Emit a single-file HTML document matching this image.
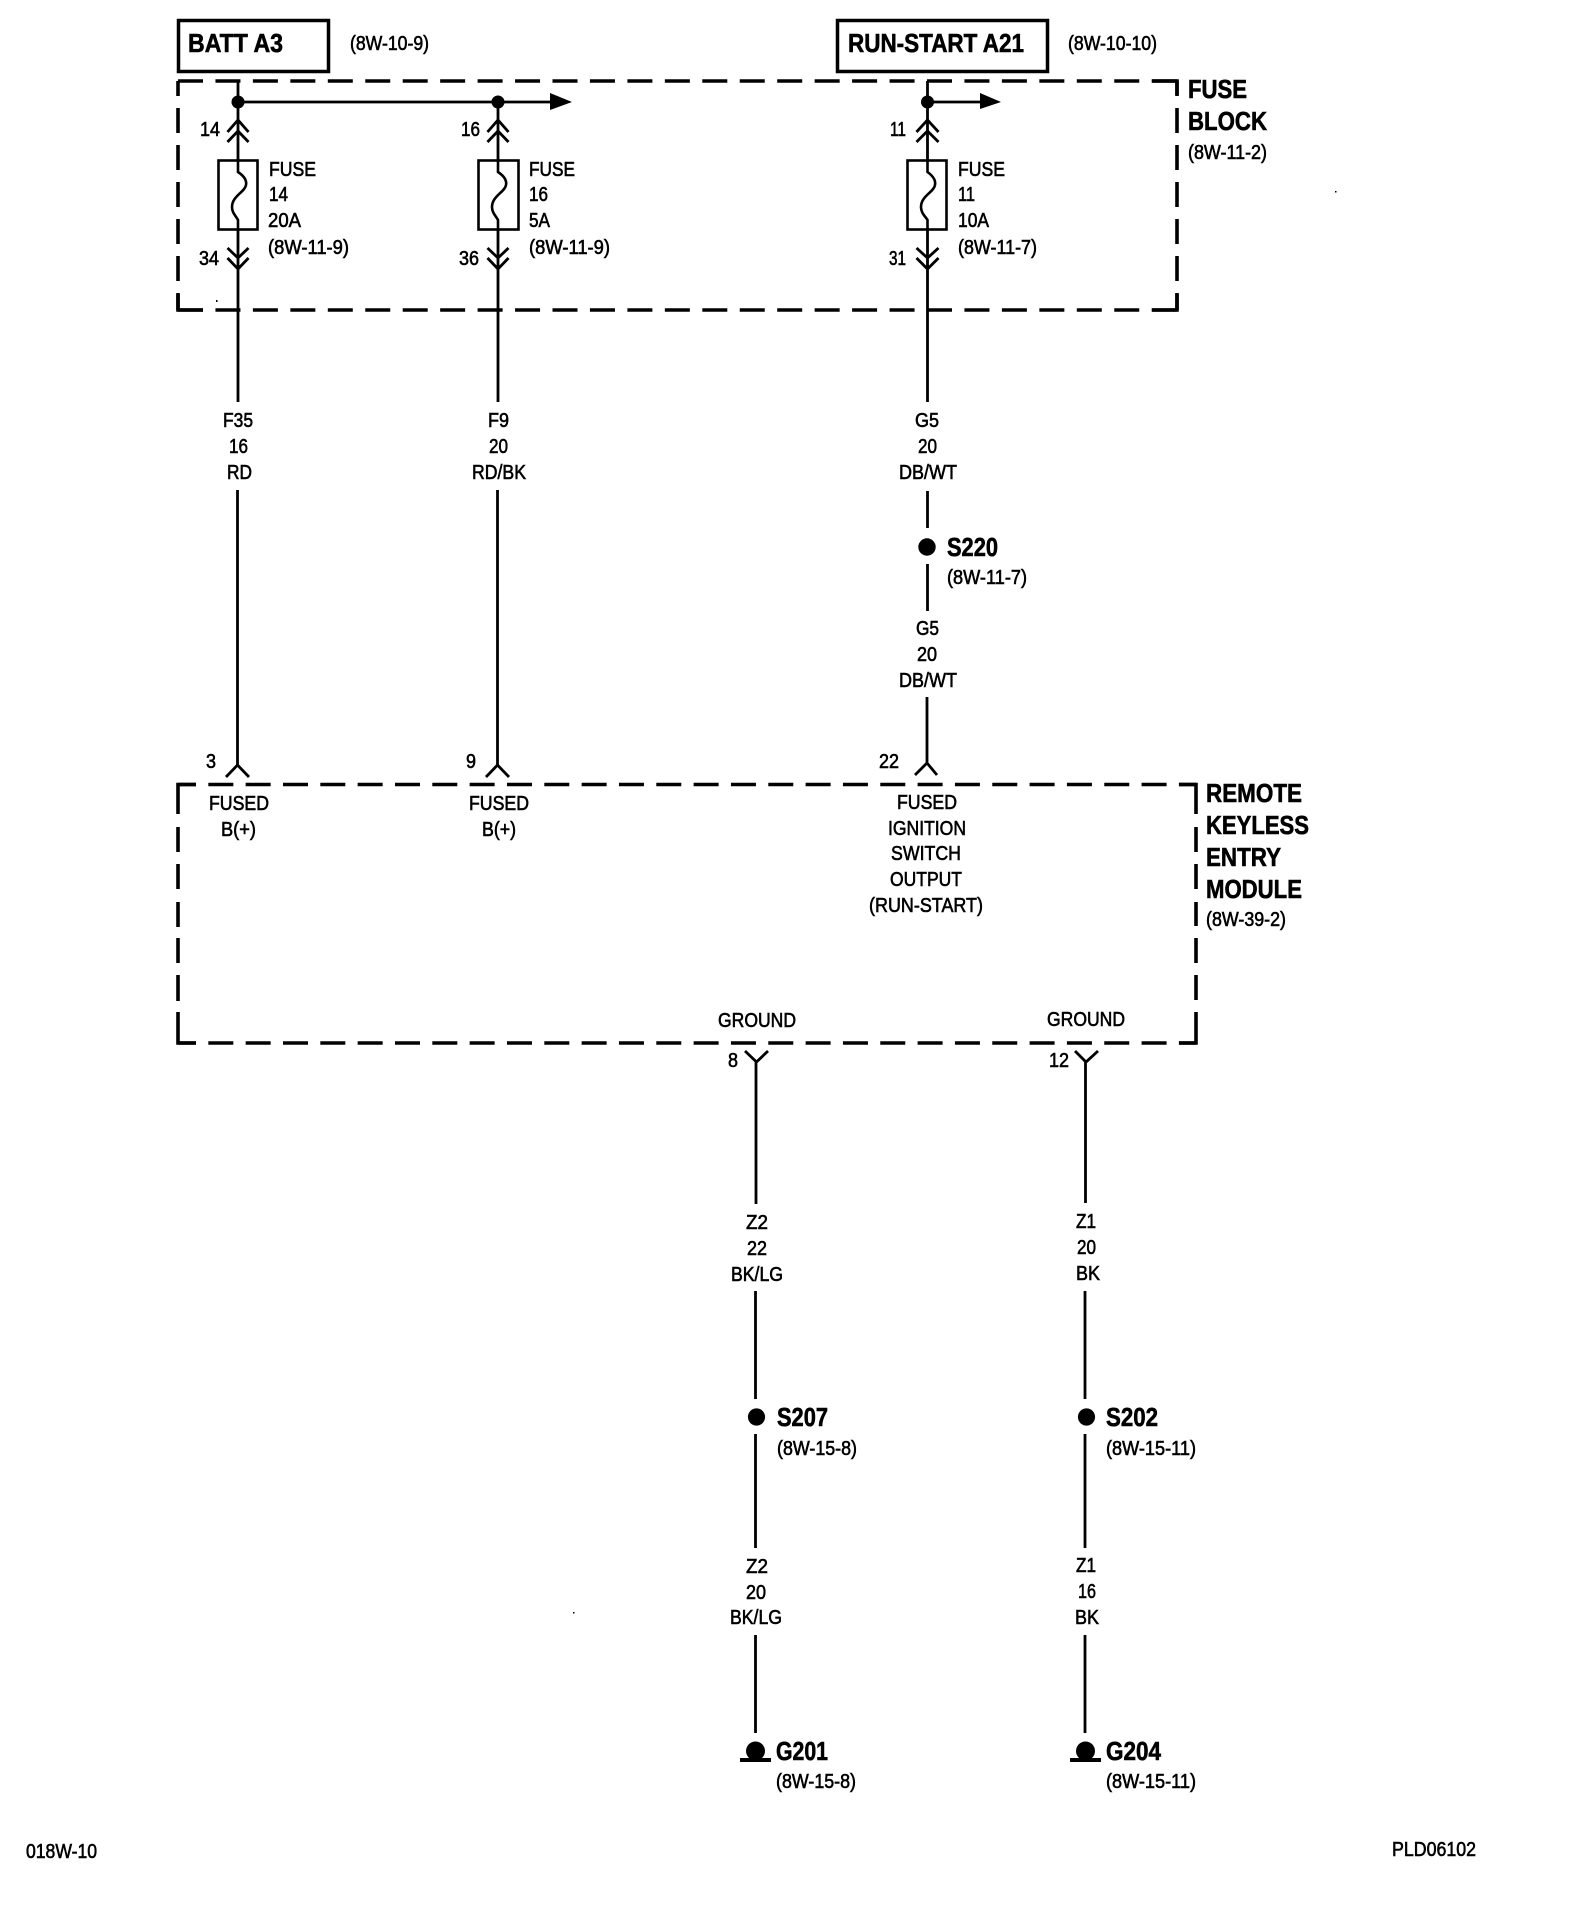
<!DOCTYPE html>
<html><head><meta charset="utf-8"><title>Wiring diagram</title>
<style>
html,body{margin:0;padding:0;background:#fff;width:1584px;height:1924px;overflow:hidden}
svg{display:block}
text{font-family:"Liberation Sans",sans-serif;fill:#000}
.s{font-size:20px;stroke:#000;stroke-width:.6px}
.b{font-size:26px;font-weight:bold;stroke:#000;stroke-width:.6px}
.w{fill:none;stroke:#000;stroke-width:2.8}
.t{fill:none;stroke:#000;stroke-width:2.6}
.d{fill:none;stroke:#000;stroke-width:3.6}
</style></head><body>
<svg xmlns="http://www.w3.org/2000/svg" width="1584" height="1924" viewBox="0 0 1584 1924">
<rect width="1584" height="1924" fill="#fff"/>

<!-- header boxes -->
<rect x="178.5" y="20.5" width="150" height="51" fill="none" stroke="#000" stroke-width="3.5"/>
<rect x="837.5" y="20.5" width="210" height="51" fill="none" stroke="#000" stroke-width="3.5"/>
<text class="b" x="188" y="52" textLength="95" lengthAdjust="spacingAndGlyphs">BATT A3</text>
<text class="b" x="848" y="52" textLength="176" lengthAdjust="spacingAndGlyphs">RUN-START A21</text>
<text class="s" x="350" y="50" textLength="79" lengthAdjust="spacingAndGlyphs">(8W-10-9)</text>
<text class="s" x="1068" y="50" textLength="89" lengthAdjust="spacingAndGlyphs">(8W-10-10)</text>

<!-- fuse block dashed -->
<path class="d" d="M178 81H1177" stroke-dasharray="25 12.45"/>
<path class="d" d="M178 310H1177" stroke-dasharray="25 12.45"/>
<path class="d" d="M178 81V310" stroke-dasharray="25 12" stroke-dashoffset="10"/>
<path class="d" d="M1177 81V310" stroke-dasharray="25 12" stroke-dashoffset="10"/>
<path class="d" d="M1152 81H1177V95M1177 294V310H1152M178 294V310H203"/>
<text class="b" x="1188" y="98" textLength="59" lengthAdjust="spacingAndGlyphs">FUSE</text>
<text class="b" x="1188" y="130" textLength="79" lengthAdjust="spacingAndGlyphs">BLOCK</text>
<text class="s" x="1188" y="159" textLength="79" lengthAdjust="spacingAndGlyphs">(8W-11-2)</text>

<!-- left fuse -->
<path class="w" d="M238 81V160M238 102H550"/>
<circle cx="238" cy="102" r="6.5"/><circle cx="498" cy="102" r="6.5"/>
<path d="M550 93L572 102L550 110Z"/>
<path class="w" d="M227.5 132L238 120L248.5 132M227.5 142L238 131L248.5 142"/>
<rect class="t" x="218.5" y="160.5" width="39" height="69"/>
<path class="t" d="M238 160V172C244 176 247 180 246 185C245 192 232 196 232 207C232 213 236 216 238 220V230"/>
<path class="w" d="M238 230V402M227.5 248L238 258L248.5 248M227.5 258L238 269L248.5 258"/>
<path class="w" d="M237.5 490V765M226 777L237.5 765L249 777"/>
<text class="s" x="200" y="136" textLength="20" lengthAdjust="spacingAndGlyphs">14</text>
<text class="s" x="199" y="265" textLength="20" lengthAdjust="spacingAndGlyphs">34</text>
<text class="s" x="269" y="176" textLength="47" lengthAdjust="spacingAndGlyphs">FUSE</text>
<text class="s" x="269" y="201" textLength="19" lengthAdjust="spacingAndGlyphs">14</text>
<text class="s" x="268" y="227" textLength="33" lengthAdjust="spacingAndGlyphs">20A</text>
<text class="s" x="268" y="254" textLength="81" lengthAdjust="spacingAndGlyphs">(8W-11-9)</text>

<!-- middle fuse -->
<path class="w" d="M498 102V160"/>
<path class="w" d="M487.5 132L498 120L508.5 132M487.5 142L498 131L508.5 142"/>
<rect class="t" x="478.5" y="160.5" width="40" height="69"/>
<path class="t" d="M498 160V172C504 176 507 180 506 185C505 192 492 196 492 207C492 213 496 216 498 220V230"/>
<path class="w" d="M498 230V402M487.5 248L498 258L508.5 248M487.5 258L498 269L508.5 258"/>
<path class="w" d="M497.5 490V765M486 777L497.5 765L509 777"/>
<text class="s" x="461" y="136" textLength="19" lengthAdjust="spacingAndGlyphs">16</text>
<text class="s" x="459" y="265" textLength="20" lengthAdjust="spacingAndGlyphs">36</text>
<text class="s" x="529" y="176" textLength="46" lengthAdjust="spacingAndGlyphs">FUSE</text>
<text class="s" x="529" y="201" textLength="19" lengthAdjust="spacingAndGlyphs">16</text>
<text class="s" x="529" y="227" textLength="21" lengthAdjust="spacingAndGlyphs">5A</text>
<text class="s" x="529" y="254" textLength="81" lengthAdjust="spacingAndGlyphs">(8W-11-9)</text>

<!-- right fuse -->
<path class="w" d="M927.5 81V160M927.5 102H980"/>
<circle cx="927.5" cy="102" r="6.5"/>
<path d="M980 93L1001 102L980 109Z"/>
<path class="w" d="M916.5 132L927.5 120L938.5 132M916.5 142L927.5 131L938.5 142"/>
<rect class="t" x="907.5" y="160.5" width="39" height="69"/>
<path class="t" d="M927.5 160V172C933 176 936 180 935 185C934 192 921 196 921 207C921 213 925 216 927.5 220V230"/>
<path class="w" d="M927.5 230V402M916.5 248L927.5 258L938.5 248M916.5 258L927.5 269L938.5 258"/>
<text class="s" x="890" y="136" textLength="16" lengthAdjust="spacingAndGlyphs">11</text>
<text class="s" x="889" y="265" textLength="17" lengthAdjust="spacingAndGlyphs">31</text>
<text class="s" x="958" y="176" textLength="47" lengthAdjust="spacingAndGlyphs">FUSE</text>
<text class="s" x="958" y="201" textLength="17" lengthAdjust="spacingAndGlyphs">11</text>
<text class="s" x="958" y="227" textLength="31" lengthAdjust="spacingAndGlyphs">10A</text>
<text class="s" x="958" y="254" textLength="79" lengthAdjust="spacingAndGlyphs">(8W-11-7)</text>

<!-- wire labels upper -->
<text class="s" x="223" y="427" textLength="30" lengthAdjust="spacingAndGlyphs">F35</text>
<text class="s" x="229" y="453" textLength="19" lengthAdjust="spacingAndGlyphs">16</text>
<text class="s" x="227" y="479" textLength="25" lengthAdjust="spacingAndGlyphs">RD</text>
<text class="s" x="488" y="427" textLength="21" lengthAdjust="spacingAndGlyphs">F9</text>
<text class="s" x="489" y="453" textLength="19" lengthAdjust="spacingAndGlyphs">20</text>
<text class="s" x="472" y="479" textLength="54" lengthAdjust="spacingAndGlyphs">RD/BK</text>
<text class="s" x="915" y="427" textLength="24" lengthAdjust="spacingAndGlyphs">G5</text>
<text class="s" x="918" y="453" textLength="19" lengthAdjust="spacingAndGlyphs">20</text>
<text class="s" x="899" y="479" textLength="58" lengthAdjust="spacingAndGlyphs">DB/WT</text>

<!-- S220 -->
<path class="w" d="M927.5 491V528M927.5 564V611M927 697V763M915 775L927 763L937 775"/>
<circle cx="927" cy="547" r="8.7"/>
<text class="b" x="947" y="556" textLength="51" lengthAdjust="spacingAndGlyphs">S220</text>
<text class="s" x="947" y="584" textLength="80" lengthAdjust="spacingAndGlyphs">(8W-11-7)</text>
<text class="s" x="916" y="635" textLength="23" lengthAdjust="spacingAndGlyphs">G5</text>
<text class="s" x="917" y="661" textLength="20" lengthAdjust="spacingAndGlyphs">20</text>
<text class="s" x="899" y="687" textLength="58" lengthAdjust="spacingAndGlyphs">DB/WT</text>

<!-- pin numbers -->
<text class="s" x="206" y="768" textLength="10" lengthAdjust="spacingAndGlyphs">3</text>
<text class="s" x="466" y="768" textLength="10" lengthAdjust="spacingAndGlyphs">9</text>
<text class="s" x="879" y="768" textLength="20" lengthAdjust="spacingAndGlyphs">22</text>

<!-- module dashed -->
<path class="d" d="M178 784.5H1196" stroke-dasharray="25 12.33" stroke-dashoffset="7"/>
<path class="d" d="M178 1043H1196" stroke-dasharray="25 12.33" stroke-dashoffset="7"/>
<path class="d" d="M178 814V784.5H196M178 827V852M178 864V889M178 902V927M178 938V963M178 975V1001M178 1012V1043H196"/>
<path class="d" d="M1179 784.5H1196V814M1196 827V852M1196 864V889M1196 902V926M1196 938V963M1196 975V1000M1196 1012V1043H1179"/>

<text class="s" x="209" y="810" textLength="60" lengthAdjust="spacingAndGlyphs">FUSED</text>
<text class="s" x="221" y="836" textLength="35" lengthAdjust="spacingAndGlyphs">B(+)</text>
<text class="s" x="469" y="810" textLength="60" lengthAdjust="spacingAndGlyphs">FUSED</text>
<text class="s" x="482" y="836" textLength="34" lengthAdjust="spacingAndGlyphs">B(+)</text>
<text class="s" x="897" y="809" textLength="60" lengthAdjust="spacingAndGlyphs">FUSED</text>
<text class="s" x="888" y="835" textLength="78" lengthAdjust="spacingAndGlyphs">IGNITION</text>
<text class="s" x="891" y="860" textLength="70" lengthAdjust="spacingAndGlyphs">SWITCH</text>
<text class="s" x="890" y="886" textLength="72" lengthAdjust="spacingAndGlyphs">OUTPUT</text>
<text class="s" x="869" y="912" textLength="114" lengthAdjust="spacingAndGlyphs">(RUN-START)</text>

<text class="b" x="1206" y="802" textLength="96" lengthAdjust="spacingAndGlyphs">REMOTE</text>
<text class="b" x="1206" y="834" textLength="103" lengthAdjust="spacingAndGlyphs">KEYLESS</text>
<text class="b" x="1206" y="866" textLength="75" lengthAdjust="spacingAndGlyphs">ENTRY</text>
<text class="b" x="1206" y="898" textLength="96" lengthAdjust="spacingAndGlyphs">MODULE</text>
<text class="s" x="1206" y="926" textLength="80" lengthAdjust="spacingAndGlyphs">(8W-39-2)</text>

<text class="s" x="718" y="1027" textLength="78" lengthAdjust="spacingAndGlyphs">GROUND</text>
<text class="s" x="1047" y="1026" textLength="78" lengthAdjust="spacingAndGlyphs">GROUND</text>

<!-- lower wires -->
<text class="s" x="728" y="1067" textLength="10" lengthAdjust="spacingAndGlyphs">8</text>
<text class="s" x="1049" y="1067" textLength="20" lengthAdjust="spacingAndGlyphs">12</text>
<path class="w" d="M745 1051L756.5 1062L768 1051M756 1062V1204M755.5 1291V1399M755.5 1434V1548M755.5 1635V1733"/>
<path class="w" d="M1075 1051L1086 1062L1098 1051M1085.5 1062V1203M1085 1291V1399M1085 1434V1548M1085 1635V1733"/>

<text class="s" x="746" y="1229" textLength="22" lengthAdjust="spacingAndGlyphs">Z2</text>
<text class="s" x="747" y="1255" textLength="20" lengthAdjust="spacingAndGlyphs">22</text>
<text class="s" x="731" y="1281" textLength="52" lengthAdjust="spacingAndGlyphs">BK/LG</text>
<text class="s" x="1076" y="1228" textLength="20" lengthAdjust="spacingAndGlyphs">Z1</text>
<text class="s" x="1077" y="1254" textLength="19" lengthAdjust="spacingAndGlyphs">20</text>
<text class="s" x="1076" y="1280" textLength="24" lengthAdjust="spacingAndGlyphs">BK</text>

<circle cx="756.5" cy="1417" r="8.6"/>
<circle cx="1086.5" cy="1417" r="8.6"/>
<text class="b" x="777" y="1426" textLength="51" lengthAdjust="spacingAndGlyphs">S207</text>
<text class="b" x="1106" y="1426" textLength="52" lengthAdjust="spacingAndGlyphs">S202</text>
<text class="s" x="777" y="1455" textLength="80" lengthAdjust="spacingAndGlyphs">(8W-15-8)</text>
<text class="s" x="1106" y="1455" textLength="90" lengthAdjust="spacingAndGlyphs">(8W-15-11)</text>

<text class="s" x="746" y="1573" textLength="22" lengthAdjust="spacingAndGlyphs">Z2</text>
<text class="s" x="746" y="1599" textLength="20" lengthAdjust="spacingAndGlyphs">20</text>
<text class="s" x="730" y="1624" textLength="52" lengthAdjust="spacingAndGlyphs">BK/LG</text>
<text class="s" x="1076" y="1572" textLength="20" lengthAdjust="spacingAndGlyphs">Z1</text>
<text class="s" x="1078" y="1598" textLength="18" lengthAdjust="spacingAndGlyphs">16</text>
<text class="s" x="1075" y="1624" textLength="24" lengthAdjust="spacingAndGlyphs">BK</text>

<!-- grounds -->
<circle cx="755.5" cy="1751" r="9.5"/><rect x="740" y="1758" width="31" height="4"/>
<circle cx="1085.5" cy="1751" r="9.5"/><rect x="1070" y="1758" width="31" height="4"/>
<text class="b" x="776" y="1760" textLength="52" lengthAdjust="spacingAndGlyphs">G201</text>
<text class="b" x="1106" y="1760" textLength="55" lengthAdjust="spacingAndGlyphs">G204</text>
<text class="s" x="776" y="1788" textLength="80" lengthAdjust="spacingAndGlyphs">(8W-15-8)</text>
<text class="s" x="1106" y="1788" textLength="90" lengthAdjust="spacingAndGlyphs">(8W-15-11)</text>

<!-- footer -->
<text class="s" x="26" y="1858" textLength="71" lengthAdjust="spacingAndGlyphs">018W-10</text>
<text class="s" x="1392" y="1856" textLength="84" lengthAdjust="spacingAndGlyphs">PLD06102</text>

<!-- specks -->
<rect x="1335" y="191" width="1.5" height="1.5"/>
<rect x="573" y="1612" width="1.5" height="1.5"/>
<rect x="216" y="300" width="1.5" height="2"/>
</svg>
</body></html>
